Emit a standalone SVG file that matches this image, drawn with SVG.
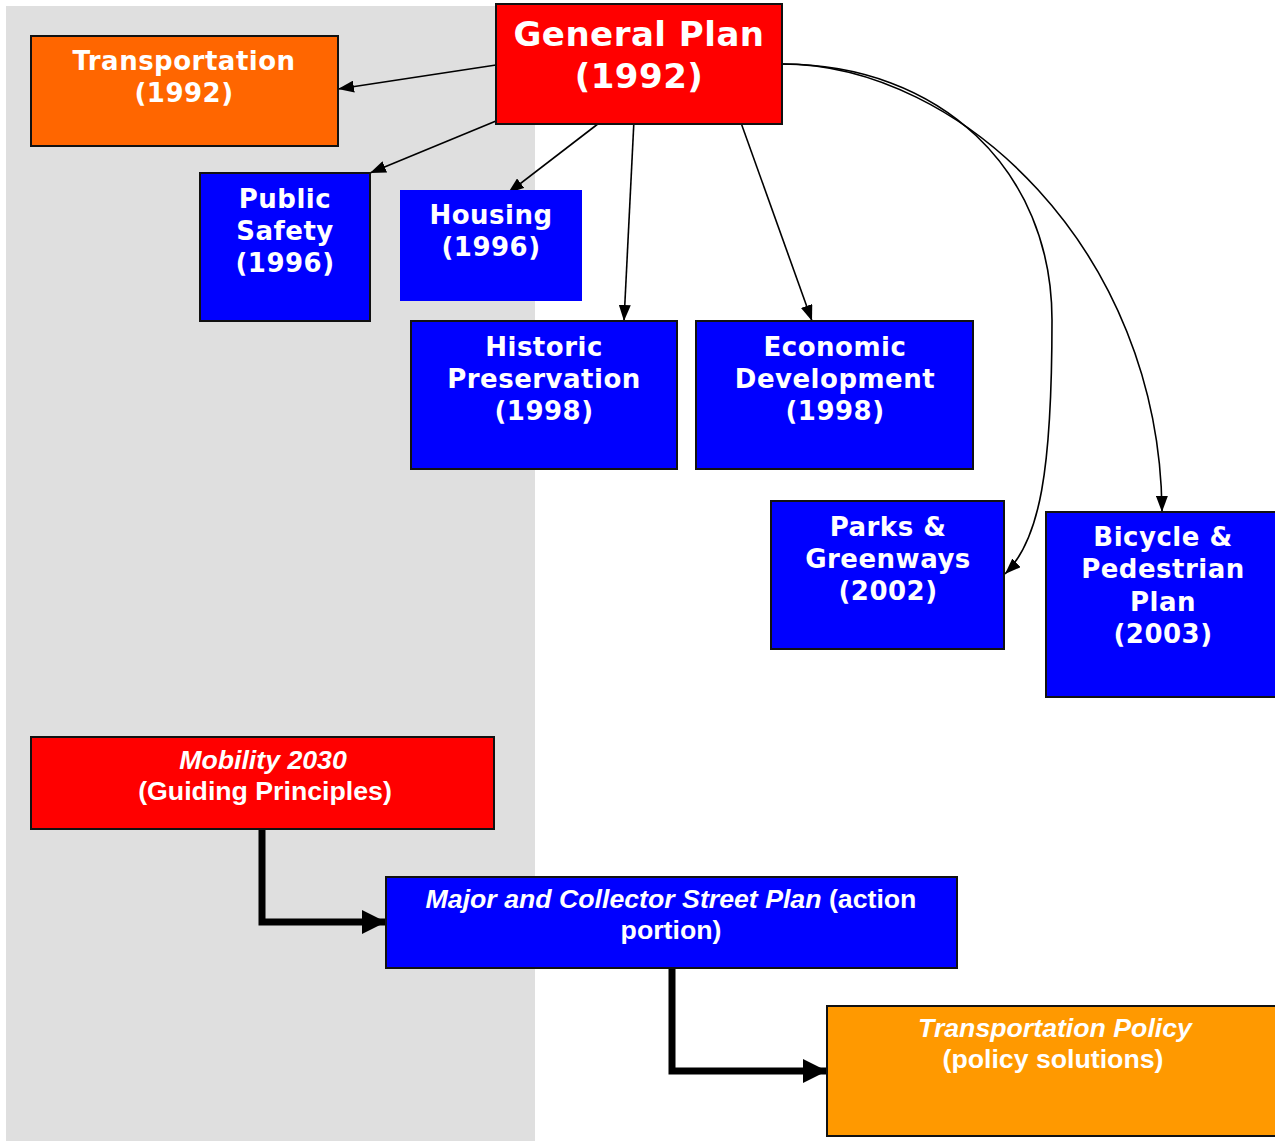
<svg xmlns="http://www.w3.org/2000/svg" width="1275" height="1141" viewBox="0 0 1275 1141">
<style>
.box{stroke:#111;stroke-width:2}
.v{font-family:"DejaVu Sans",Verdana,sans-serif;font-weight:bold;font-size:26px;fill:#fff;text-anchor:middle;letter-spacing:0.5px}
.a{font-family:"Liberation Sans",Arial,sans-serif;font-weight:bold;font-size:26.7px;fill:#fff;text-anchor:middle}
.thin{fill:none;stroke:#000;stroke-width:1.6}
.thick{fill:none;stroke:#000;stroke-width:7}
</style>
<defs>
<marker id="ah" viewBox="0 0 16 12" refX="16" refY="6" markerWidth="16" markerHeight="12" markerUnits="userSpaceOnUse" orient="auto">
<path d="M0,0 L16,6 L0,12 Z" fill="#000"/>
</marker>
<marker id="big" viewBox="0 0 24 24" refX="24" refY="12" markerWidth="24" markerHeight="24" markerUnits="userSpaceOnUse" orient="auto">
<path d="M0,0 L24,12 L0,24 Z" fill="#000"/>
</marker>
</defs>
<rect x="0" y="0" width="1275" height="1141" fill="#fff"/>
<rect x="6" y="6" width="529" height="1135" fill="#dfdfdf"/>

<g id="connectors">
<path class="thin" d="M496,65 L338,89" marker-end="url(#ah)"/>
<path class="thin" d="M496,121 L370,173" marker-end="url(#ah)"/>
<path class="thin" d="M603,120 L508,193" marker-end="url(#ah)"/>
<path class="thin" d="M634,120 L624,321" marker-end="url(#ah)"/>
<path class="thin" d="M740,120 L812,321" marker-end="url(#ah)"/>
<path class="thin" d="M782,64 C940,64 1052,170 1052,320 C1052,470 1040,540 1005,574" marker-end="url(#ah)"/>
<path class="thin" d="M782,64 C960,64 1160,250 1162,512" marker-end="url(#ah)"/>
<path class="thick" d="M262,829 L262,922 L386,922" marker-end="url(#big)"/>
<path class="thick" d="M672,968 L672,1071 L827,1071" marker-end="url(#big)"/>
</g>

<g id="general-plan">
<rect class="box" x="496" y="4" width="286" height="120" fill="#ff0000"/>
<text class="v" x="639" y="46" style="font-size:34px">General Plan</text>
<text class="v" x="639" y="88" style="font-size:34px">(1992)</text>
</g>

<g id="transportation">
<rect class="box" x="31" y="36" width="307" height="110" fill="#ff6600"/>
<text class="v" x="184" y="70">Transportation</text>
<text class="v" x="184" y="102">(1992)</text>
</g>

<g id="public-safety">
<rect class="box" x="200" y="173" width="170" height="148" fill="#0000ff"/>
<text class="v" x="285" y="208">Public</text>
<text class="v" x="285" y="240">Safety</text>
<text class="v" x="285" y="272">(1996)</text>
</g>

<g id="housing">
<rect x="400" y="190" width="182" height="111" fill="#0000ff"/>
<text class="v" x="491" y="224">Housing</text>
<text class="v" x="491" y="256">(1996)</text>
</g>

<g id="historic-preservation">
<rect class="box" x="411" y="321" width="266" height="148" fill="#0000ff"/>
<text class="v" x="544" y="356">Historic</text>
<text class="v" x="544" y="388">Preservation</text>
<text class="v" x="544" y="420">(1998)</text>
</g>

<g id="economic-development">
<rect class="box" x="696" y="321" width="277" height="148" fill="#0000ff"/>
<text class="v" x="835" y="356">Economic</text>
<text class="v" x="835" y="388">Development</text>
<text class="v" x="835" y="420">(1998)</text>
</g>

<g id="parks-greenways">
<rect class="box" x="771" y="501" width="233" height="148" fill="#0000ff"/>
<text class="v" x="888" y="536">Parks &amp;</text>
<text class="v" x="888" y="568">Greenways</text>
<text class="v" x="888" y="600">(2002)</text>
</g>

<g id="bicycle-pedestrian">
<rect class="box" x="1046" y="512" width="240" height="185" fill="#0000ff"/>
<text class="v" x="1163" y="546">Bicycle &amp;</text>
<text class="v" x="1163" y="578">Pedestrian</text>
<text class="v" x="1163" y="611">Plan</text>
<text class="v" x="1163" y="643">(2003)</text>
</g>

<g id="mobility-2030">
<rect class="box" x="31" y="737" width="463" height="92" fill="#ff0000"/>
<text class="a" x="263" y="769" font-style="italic">Mobility 2030</text>
<text class="a" x="265" y="800">(Guiding Principles)</text>
</g>

<g id="major-collector">
<rect class="box" x="386" y="877" width="571" height="91" fill="#0000ff"/>
<text class="a" x="671" y="908"><tspan font-style="italic">Major and Collector Street Plan</tspan> (action</text>
<text class="a" x="671" y="939">portion)</text>
</g>

<g id="transportation-policy">
<rect class="box" x="827" y="1006" width="460" height="130" fill="#ff9900"/>
<text class="a" x="1055" y="1037" font-style="italic">Transportation Policy</text>
<text class="a" x="1053" y="1068">(policy solutions)</text>
</g>
</svg>
